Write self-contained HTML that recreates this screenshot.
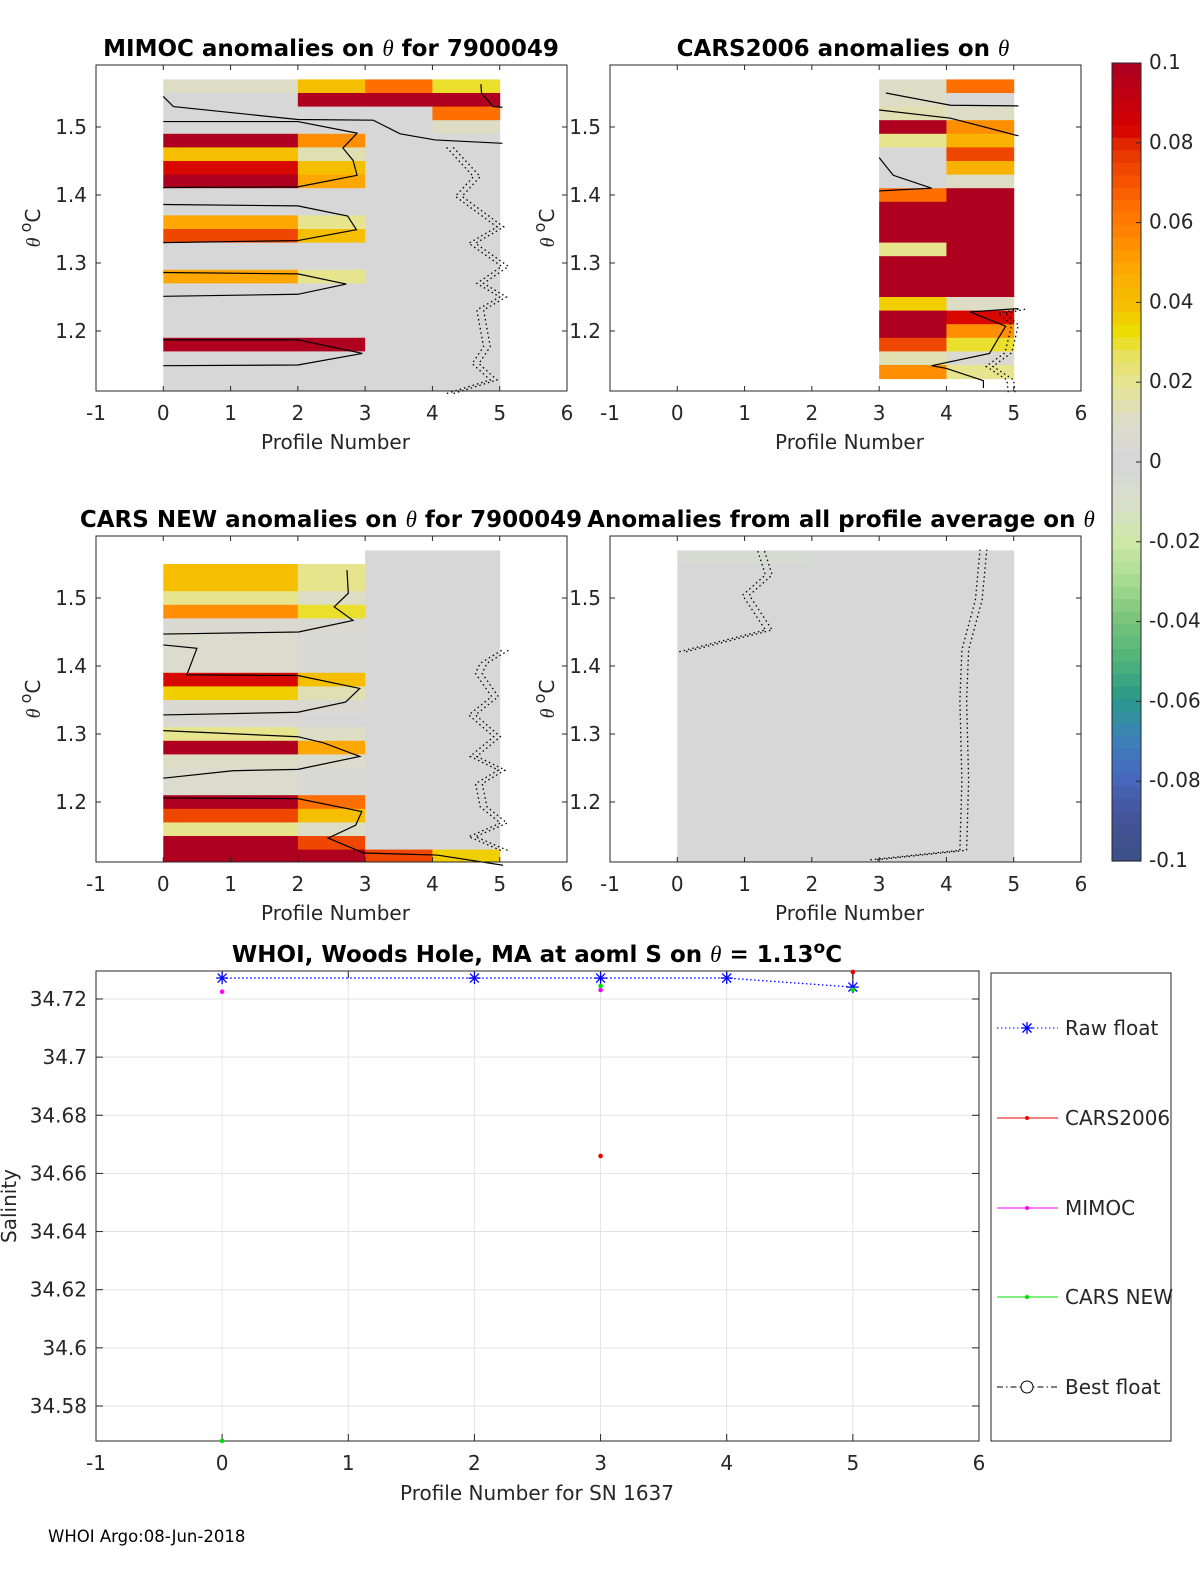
<!DOCTYPE html>
<html><head><meta charset="utf-8"><style>
body{margin:0;background:#fff}
svg{display:block;font-family:"DejaVu Sans","Liberation Sans",sans-serif}
.t{font-size:20px;fill:#262626}
.ti{font-size:23px;font-weight:bold;fill:#000}
</style></head><body>
<svg id="fig" width="1200" height="1575" viewBox="0 0 1200 1575" xmlns="http://www.w3.org/2000/svg">
<rect width="1200" height="1575" fill="#fff"/>
<g id="layer"></g>
</svg>
<script>
// ---------- data ----------
const p1Edges=[0,2,3,4,5];
const p1Vals=[[0.01,0.04,0.065,0.03],[0,0.1,0.1,0.1],[0,0,0,0.065],[0,0,0,0.01],[0.1,0.055,0,0],[0.04,0.015,0,0],[0.085,0.04,0,0],[0.1,0.05,0,0],[0,0,0,0],[0,0,0,0],[0.05,0.022,0,0],[0.075,0.04,0,0],[0,0,0,0],[0,0,0,0],[0.05,0.022,0,0],[0,0,0,0],[0,0,0,0],[0,0,0,0],[0,0,0,0],[0.1,0.1,0,0],[0,0,0,0],[0,0,0,0],[0,0,0,0]];
const p2Edges=[3,4,5];
const p2Vals=[[0.01,0.065],[0.01,0],[0.015,0.01],[0.1,0.055],[0.022,0.045],[0,0.075],[0,0.045],[0,0.01],[0.065,0.1],[0.1,0.1],[0.1,0.1],[0.1,0.1],[0.022,0.1],[0.1,0.1],[0.1,0.1],[0.1,0.1],[0.035,0.01],[0.1,0.085],[0.1,0.055],[0.075,0.03],[0.015,0.005],[0.055,0.022],[null,null]];
const p3Edges=[0,2,3,4,5];
const p3Vals=[[null,null,0,0],[0.04,0.022,0,0],[0.04,0.022,0,0],[0.022,0.01,0,0],[0.055,0.03,0,0],[0.005,0.005,0,0],[0.008,0.003,0,0],[0.008,0.003,0,0],[0.008,0.003,0,0],[0.085,0.04,0,0],[0.035,0.015,0,0],[0.005,0.005,0,0],[0.005,0,0,0],[0.022,0.01,0,0],[0.1,0.05,0,0],[0.01,0.008,0,0],[0.007,0.003,0,0],[0.007,0.003,0,0],[0.1,0.065,0,0],[0.075,0.04,0,0],[0.022,0.01,0,0],[0.1,0.075,0,0],[0.1,0.1,0.075,0.035]];
const p4Edges=[0,2,5];
const p4Vals=[[-0.005,0]].concat(Array.from({length:22},()=>[0,0]));
const thetaTop=1.57, thetaStep=0.02;

const p1Lines=[
 {x:[0,0.15,2.0,3.12,3.52,4.04,5.04],t:[1.545,1.530,1.511,1.510,1.490,1.481,1.476]},
 {x:[0,2,2.88,2.67,2.82,2.88,2,0],t:[1.508,1.508,1.491,1.469,1.451,1.429,1.412,1.411]},
 {x:[0,2,2.74,2.87,2,0],t:[1.386,1.384,1.369,1.349,1.333,1.330]},
 {x:[0,2,2.72,2,0],t:[1.286,1.284,1.269,1.254,1.251]},
 {x:[0,2,2.96,2,0],t:[1.187,1.187,1.167,1.150,1.149]},
 {x:[4.72,4.73,4.9,5.04],t:[1.563,1.550,1.530,1.529]}];
const p1Dots=[{x:[4.21,4.61,4.34,4.96,4.54,5.03,4.66,5.0,4.66,4.76,4.59,4.86,4.21],t:[1.470,1.427,1.398,1.353,1.329,1.295,1.270,1.250,1.231,1.177,1.152,1.128,1.108]}];
const p2Lines=[
 {x:[3.1,4.06,5.07],t:[1.550,1.532,1.531]},
 {x:[3.0,4.06,5.07],t:[1.525,1.513,1.487]},
 {x:[3.0,3.21,3.78,3.0],t:[1.455,1.429,1.410,1.406]},
 {x:[5.07,4.35,4.88,4.77,4.64,3.78,4.0,4.55,4.55],t:[1.233,1.228,1.207,1.189,1.167,1.149,1.145,1.127,1.116]}];
const p2Dots=[{x:[5.07,4.77,4.97,4.87,4.59,4.9,4.92],t:[1.232,1.226,1.209,1.168,1.148,1.128,1.109]}];
const p3Lines=[
 {x:[2.73,2.75,2.54,2.82,2.01,0],t:[1.541,1.507,1.487,1.467,1.450,1.447]},
 {x:[0,0.5,0.35,2.0,2.92,2.71,2.0,0],t:[1.431,1.426,1.387,1.386,1.367,1.347,1.332,1.328]},
 {x:[0,2,2.38,2.92,2,1.03,0],t:[1.305,1.296,1.287,1.267,1.248,1.246,1.235]},
 {x:[0,2,2.95,2.86,2.45,2.98,4.07,5.05],t:[1.206,1.205,1.186,1.166,1.147,1.125,1.122,1.107]}];
const p3Dots=[{x:[5.03,4.71,4.64,4.88,4.54,4.91,4.56,4.98,4.64,4.71,5.01,4.54,5.06],t:[1.423,1.404,1.389,1.355,1.328,1.296,1.267,1.247,1.227,1.193,1.169,1.149,1.127]}];
const p4Lines=[];
const p4Dots=[{x:[0.03,1.31,0.97,1.31,1.19],t:[1.421,1.453,1.504,1.534,1.571]},{x:[2.87,4.2,4.23,4.2,4.23,4.43,4.5],t:[1.115,1.129,1.232,1.35,1.424,1.497,1.571]}];

const salX=[0,1,2,3,4,5,6];
const rawX=[0,2,3,4,5], rawS=[34.7272,34.7272,34.7272,34.7272,34.7241];
const carsX=[3,5], carsS=[34.666,34.7293];
const mimocX=[0,3], mimocS=[34.7225,34.7231];
const newX=[0,3,5], newS=[34.568,34.7245,34.7232];
const salTicks=[34.58,34.6,34.62,34.64,34.66,34.68,34.7,34.72];
const cbTicks=[0.1,0.08,0.06,0.04,0.02,0,-0.02,-0.04,-0.06,-0.08,-0.1];

// ---------- helpers ----------
const NS="http://www.w3.org/2000/svg";
const L=document.getElementById('layer');
function mk(tag,attrs,parent,txt){const e=document.createElementNS(NS,tag);for(const k in attrs)e.setAttribute(k,attrs[k]);if(txt!==undefined)e.textContent=txt;(parent||L).appendChild(e);return e;}
const stops=[[-0.1,[60,80,136]],[-0.09,[68,84,154]],[-0.08,[72,104,192]],[-0.07,[60,130,184]],[-0.06,[42,154,136]],[-0.05,[80,180,120]],[-0.04,[120,196,122]],[-0.03,[168,220,144]],[-0.02,[207,232,168]],[-0.01,[216,222,204]],[0,[215,215,215]],[0.01,[220,220,204]],[0.02,[230,228,144]],[0.027,[232,224,96]],[0.033,[237,222,0]],[0.04,[245,190,0]],[0.045,[248,180,0]],[0.05,[255,165,0]],[0.055,[255,144,0]],[0.065,[255,110,0]],[0.072,[245,80,0]],[0.08,[226,48,0]],[0.085,[214,0,0]],[0.09,[200,0,10]],[0.1,[176,0,32]]];
function cmap(v){
  let q=Math.round((Math.max(-0.1,Math.min(0.1,v))+0.1)/0.2*63)/63*0.2-0.1;
  if(Math.abs(v)<0.002)q=0;
  for(let i=0;i<stops.length-1;i++){const[a,ca]=stops[i],[b,cb]=stops[i+1];
    if(q<=b+1e-9){const f=(q-a)/(b-a);return 'rgb('+ca.map((c,j)=>Math.round(c+(cb[j]-c)*f)).join(',')+')';}}
  return 'rgb(176,0,32)';
}
function panel(name,left,top,yref,edges,vals,lines,dots,title,titleX){
  const g=mk('g',{});
  
  
  const W=471,H=326;
  const sx=v=>left+(v+1)*W/7, sy=t=>yref-(t-1.5)*680;
  mk('rect',{x:left,y:top,width:W,height:H,fill:'#fff'},g);
  const cg=mk('g',{},g);  
  vals.forEach((row,i)=>{row.forEach((v,j)=>{if(v===null)return;
    const y0=sy(thetaTop-i*thetaStep), y1=sy(thetaTop-(i+1)*thetaStep);
    const yb=Math.min(y1,top+H);
    const r=mk('rect',{x:sx(edges[j]),y:y0,width:sx(edges[j+1])-sx(edges[j])+0.5,height:yb-y0+0.5,fill:cmap(v)},cg);
    
    
  });});
  lines.forEach(l=>{const p=mk('polyline',{points:l.x.map((x,k)=>sx(x)+','+sy(l.t[k])).join(' '),fill:'none',stroke:'#000','stroke-width':1.2},g);
    
    });
  dots.forEach(l=>{[0,0.1].forEach(o=>{const p=mk('polyline',{points:l.x.map((x,k)=>sx(x+o)+','+sy(l.t[k])).join(' '),fill:'none',stroke:'#000','stroke-width':1.3,'stroke-dasharray':'1.5,3'},g);
    
    });});
  mk('rect',{x:left,y:top,width:W,height:H,fill:'none',stroke:'#262626','stroke-width':1},g);
  for(let v=-1;v<=6;v++){const x=sx(v);mk('line',{x1:x,x2:x,y1:top+H,y2:top+H-5,stroke:'#262626'},g);mk('line',{x1:x,x2:x,y1:top,y2:top+5,stroke:'#262626'},g);
    const t=mk('text',{x:x,y:top+H+29,'text-anchor':'middle',class:'t'},g,String(v));}
  [1.2,1.3,1.4,1.5].forEach(v=>{const y=sy(v);mk('line',{x1:left,x2:left+5,y1:y,y2:y,stroke:'#262626'},g);mk('line',{x1:left+W,x2:left+W-5,y1:y,y2:y,stroke:'#262626'},g);
    const t=mk('text',{x:left-9,y:y+7,'text-anchor':'end',class:'t'},g,String(v));});
  const xl=mk('text',{x:left+W/2+4,y:top+H+58,'text-anchor':'middle',class:'t','font-size':23},g,'Profile Number');
  const yl=mk('text',{x:0,y:0,'text-anchor':'middle',class:'t','font-size':23,transform:'translate('+(left-56)+','+(top+H/2)+') rotate(-90)'},g);
  
  mk('tspan',{'font-family':'Liberation Serif','font-style':'italic'},yl,'θ');mk('tspan',{dy:-9,'font-size':16},yl,' o');mk('tspan',{dy:9},yl,'C');
  const tt=mk('text',{x:titleX,y:top-9,'text-anchor':'middle',class:'ti'},g);
  mk('tspan',{},tt,title[0]);mk('tspan',{'font-family':'Liberation Serif','font-style':'italic','font-weight':'normal'},tt,'θ');mk('tspan',{},tt,title[1]);
}
panel('mimoc-panel',96,65,127,p1Edges,p1Vals,p1Lines,p1Dots,['MIMOC anomalies on ','  for 7900049'],331);
panel('cars2006-panel',610,65,127,p2Edges,p2Vals,p2Lines,p2Dots,['CARS2006 anomalies on ',''],843);
panel('cars-new-panel',96,536,598,p3Edges,p3Vals,p3Lines,p3Dots,['CARS NEW anomalies on ',' for 7900049'],331);
panel('all-profile-panel',610,536,598,p4Edges,p4Vals,p4Lines,p4Dots,['Anomalies from all profile average on ',''],841);

// ---------- colorbar ----------
(function(){
  const g=mk('g',{});
  const x0=1112,w=29,yt=63,yb=861,cy=v=>yt+(0.1-v)/0.2*(yb-yt);
  for(let i=0;i<64;i++){const v=0.1-(i+0.5)*0.2/64;mk('rect',{x:x0,y:yt+i*(yb-yt)/64,width:w,height:(yb-yt)/64+0.6,fill:cmap(v)},g);}
  mk('rect',{x:x0,y:yt,width:w,height:yb-yt,fill:'none',stroke:'#262626'},g);
  cbTicks.forEach(v=>{const y=cy(v);mk('line',{x1:x0+w-5,x2:x0+w,y1:y,y2:y,stroke:'#262626'},g);
    const t=mk('text',{x:1149,y:y+6,class:'t','font-size':17},g,String(v));});
})();

// ---------- salinity plot ----------
(function(){
  const g=mk('g',{});
  const left=96,right=979,top=971,bot=1441;
  const sx=v=>left+(v+1)*(right-left)/7, sy=s=>999-(s-34.72)*2907;
  salX.slice(0,6).forEach(v=>mk('line',{x1:sx(v),x2:sx(v),y1:top,y2:bot,stroke:'#e3e3e3'},g));
  salTicks.forEach(v=>mk('line',{x1:left,x2:right,y1:sy(v),y2:sy(v),stroke:'#e3e3e3'},g));
  mk('rect',{x:left,y:top,width:right-left,height:bot-top,fill:'none',stroke:'#262626'},g);
  for(let v=-1;v<=6;v++){const x=sx(v);mk('line',{x1:x,x2:x,y1:bot,y2:bot-7,stroke:'#262626'},g);mk('line',{x1:x,x2:x,y1:top,y2:top+7,stroke:'#262626'},g);
    const t=mk('text',{x:x,y:bot+29,'text-anchor':'middle',class:'t'},g,String(v));}
  salTicks.forEach(v=>{const y=sy(v);mk('line',{x1:left,x2:left+7,y1:y,y2:y,stroke:'#262626'},g);mk('line',{x1:right,x2:right-7,y1:y,y2:y,stroke:'#262626'},g);
    const t=mk('text',{x:left-9,y:y+7,'text-anchor':'end',class:'t'},g,String(+v.toFixed(2)));});
  const xl=mk('text',{x:537,y:1500,'text-anchor':'middle',class:'t','font-size':23},g,'Profile Number for SN 1637');
  const yl=mk('text',{x:0,y:0,'text-anchor':'middle',class:'t','font-size':23,transform:'translate(16,1206) rotate(-90)'},g,'Salinity');
  const tt=mk('text',{x:537,y:962,'text-anchor':'middle',class:'ti'},g);
  mk('tspan',{},tt,'WHOI, Woods Hole, MA at aoml S on ');mk('tspan',{'font-family':'Liberation Serif','font-style':'italic','font-weight':'normal'},tt,'θ');mk('tspan',{},tt,' = 1.13');mk('tspan',{dy:-9,'font-size':17},tt,'o');mk('tspan',{dy:9},tt,'C');
  mk('line',{x1:sx(5),x2:sx(5),y1:sy(carsS[1]),y2:sy(rawS[4]),stroke:'#000'},g);
  const rl=mk('polyline',{points:rawX.map((x,i)=>sx(x)+','+sy(rawS[i])).join(' '),fill:'none',stroke:'#0000ff','stroke-dasharray':'1.5,2.5','stroke-width':1.3},g);
  
  function star(x,y){const s=mk('g',{stroke:'#0000ff','stroke-width':1.3},g);
    mk('line',{x1:x-6,x2:x+6,y1:y,y2:y},s);mk('line',{x1:x,x2:x,y1:y-6,y2:y+6},s);mk('line',{x1:x-4.5,x2:x+4.5,y1:y-4.5,y2:y+4.5},s);mk('line',{x1:x-4.5,x2:x+4.5,y1:y+4.5,y2:y-4.5},s);}
  rawX.forEach((x,i)=>star(sx(x),sy(rawS[i])));
  function dot(x,y,c,n){const d=mk('circle',{cx:x,cy:y,r:2.3,fill:c},g);}
  mimocX.forEach((x,i)=>dot(sx(x),sy(mimocS[i]),'#ff00ff','mimoc-point'));
  newX.forEach((x,i)=>dot(sx(x),sy(newS[i]),'#00dd00','cars-new-point'));
  carsX.forEach((x,i)=>dot(sx(x),sy(carsS[i]),'#ee0000','cars2006-point'));
  // legend
  const lg=mk('g',{});
  mk('rect',{x:991,y:973,width:180,height:468,fill:'#fff',stroke:'#262626'},lg);
  const ent=[['Raw float',1028,'#0000ff','star'],['CARS2006',1118,'#ee0000','dot'],['MIMOC',1208,'#ff00ff','dot'],['CARS NEW',1297,'#00dd00','dot'],['Best float',1387,'#000','circ']];
  ent.forEach(e=>{const eg=mk('g',{},lg);
    const y=e[1];
    if(e[3]==='star'){mk('line',{x1:997,x2:1058,y1:y,y2:y,stroke:e[2],'stroke-dasharray':'1.5,2.5'},eg);
      const s=mk('g',{stroke:e[2],'stroke-width':1.3},eg);mk('line',{x1:1021,x2:1033,y1:y,y2:y},s);mk('line',{x1:1027,x2:1027,y1:y-6,y2:y+6},s);mk('line',{x1:1022.5,x2:1031.5,y1:y-4.5,y2:y+4.5},s);mk('line',{x1:1022.5,x2:1031.5,y1:y+4.5,y2:y-4.5},s);}
    else if(e[3]==='dot'){mk('line',{x1:997,x2:1058,y1:y,y2:y,stroke:e[2]},eg);mk('circle',{cx:1027,cy:y,r:2,fill:e[2]},eg);}
    else{mk('line',{x1:997,x2:1058,y1:y,y2:y,stroke:'#000','stroke-dasharray':'6,3,1.5,3'},eg);mk('circle',{cx:1027,cy:y,r:6,fill:'#fff',stroke:'#000'},eg);}
    mk('text',{x:1065,y:y+7,class:'t','font-size':19},eg,e[0]);});
  const f=mk('text',{x:48,y:1542,'font-size':16.5,fill:'#000'},g,'WHOI Argo:08-Jun-2018');
})();
</script>
</body></html>
